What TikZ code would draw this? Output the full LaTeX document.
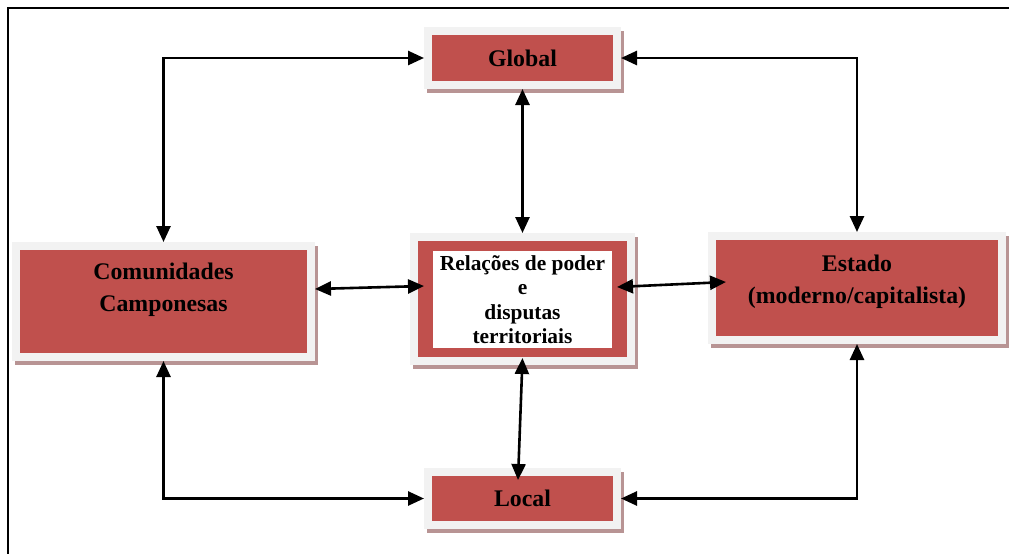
\documentclass[tikz,border=0pt]{standalone}
\usepackage{fontspec}
\setmainfont{Liberation Serif}
\usetikzlibrary{arrows.meta,positioning}
\definecolor{boxred}{HTML}{C0504D}
\definecolor{boxrim}{HTML}{F2F2F2}
\definecolor{boxshade}{HTML}{B89494}

\begin{document}
\begin{tikzpicture}[x=0.5pt,y=-0.5pt,>={Triangle[length=8pt,width=7pt]},
    box/.style={draw=boxrim,fill=boxred,line width=4pt,align=center,
      preaction={draw=boxshade,fill=boxshade,line width=4pt,transform canvas={shift={(1.5pt,-2pt)}}},
      font=\fontsize{11.9}{16}\selectfont\bfseries},
    link/.style={<->,line width=1.3pt}]
    \useasboundingbox (0,0) rectangle (1009,553);
    % frame
    \draw[line width=1.2pt] (8,560) -- (8,8) -- (1015,8);
    % boxes
    \node[box,minimum width=94.5pt,minimum height=27pt] (glob) at (522.5,58) {Global};
    \node[box,minimum width=147.5pt,minimum height=55.5pt,text depth=14.6pt] (com) at (163.5,301.5) {Comunidades\\Camponesas};
    \node[box,minimum width=108.5pt,minimum height=62pt] (rel) at (522.5,299) {};
    \node[fill=white,minimum width=89.5pt,minimum height=48.5pt,inner sep=1pt,align=center,
      font=\fontsize{10.7}{12.25}\selectfont\bfseries] (reltext) at (522.5,299.5) {Relações de poder\\e\\disputas\\territoriais};
    \node[box,minimum width=145pt,minimum height=52pt,text depth=9.1pt] (est) at (857,288) {Estado\\(moderno/capitalista)};
    \node[box,minimum width=94.5pt,minimum height=26.5pt] (loc) at (522.5,498.5) {Local};
    % connectors
    \draw[link] (com.north) |- (glob.west);
    \draw[link] (est.north) |- (glob.east);
    \draw[link] (glob.south) -- (rel.north);
    \draw[link] ([yshift=6.25pt]com.east) -- ([xshift=7pt,yshift=6.5pt]rel.west);
    \draw[link] ([xshift=-9pt,yshift=6pt]rel.east) -- ([xshift=9pt,yshift=3pt]est.west);
    \draw[link] ([yshift=3.5pt]rel.south) -- ([xshift=-2.25pt,yshift=-6pt]loc.north);
    \draw[link] (com.south) |- (loc.west);
    \draw[link] (est.south) |- (loc.east);
\end{tikzpicture}
\end{document}
